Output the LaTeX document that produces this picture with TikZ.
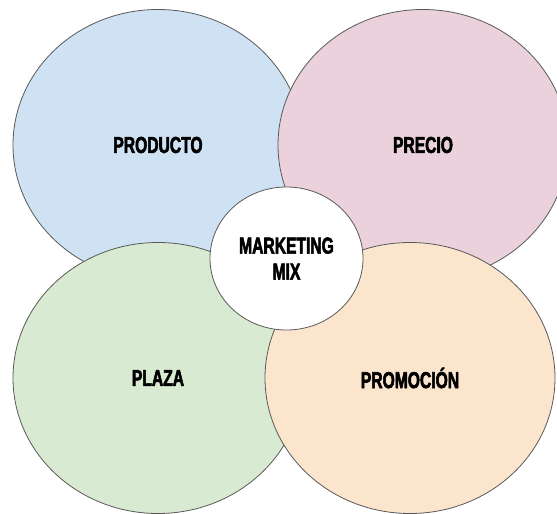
\documentclass[tikz,border=0pt]{standalone}
\usepackage{xcolor}
\usepackage{tikz}
\usepackage{fontspec}
\usetikzlibrary{shapes.geometric}
\newfontfamily\mixfont[FakeStretch=0.68,FakeBold=2.4]{Liberation Sans Bold}
\definecolor{productocol}{HTML}{CFE2F3}
\definecolor{preciocol}{HTML}{EAD1DC}
\definecolor{plazacol}{HTML}{D9EAD3}
\definecolor{promocol}{HTML}{FCE5CD}
\definecolor{edgecol}{HTML}{595959}
\tikzset{
  pbase/.style={ellipse, draw=edgecol, line width=0.8pt, align=center,
    font=\mixfont\fontsize{23}{26}\selectfont},
  part/.style={pbase, minimum width=290pt, minimum height=271pt},
  core/.style={pbase, fill=white, minimum width=153pt, minimum height=143pt}
}
\begin{document}
\begin{tikzpicture}[x=1pt, y=-1pt]
            \useasboundingbox (0, 0) rectangle (557, 514);
            \clip (0, 0) rectangle (557, 514);
            \fill[white] (0, 0) rectangle (557, 514);
            \node[part, fill=productocol] (producto) at (158, 145) {PRODUCTO};
            \node[part, fill=preciocol] (precio) at (423, 145) {PRECIO};
            \node[part, fill=plazacol] (plaza) at (158, 378) {PLAZA};
            \node[part, fill=promocol] (promocion) at (410, 378) {PROMOCIÓN};
            \node[core] (mix) at (286.5, 258.5) {MARKETING\\MIX};
        \end{tikzpicture}
\end{document}
